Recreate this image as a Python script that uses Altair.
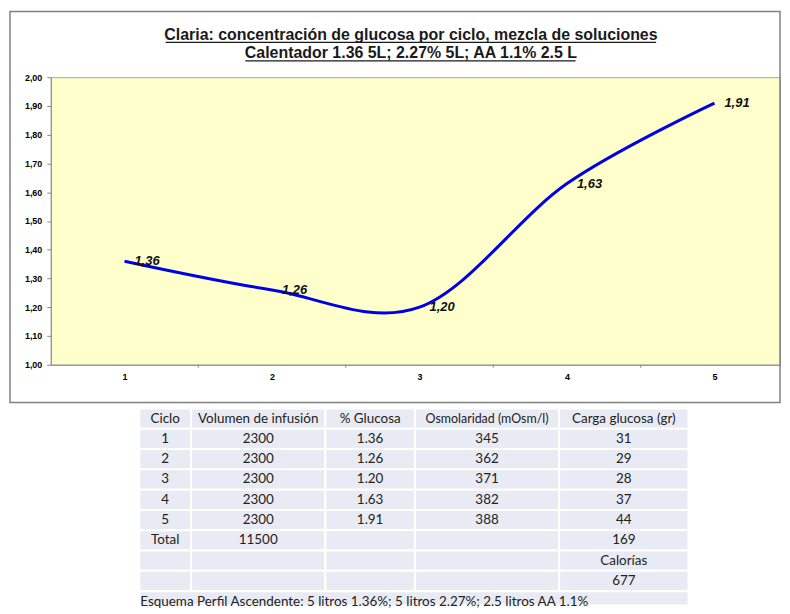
import altair as alt
import pandas as pd

# ---------------- data ----------------
ciclos = [1, 2, 3, 4, 5]
glucosa = [1.36, 1.26, 1.20, 1.63, 1.91]
volumen = [2300, 2300, 2300, 2300, 2300]
glucosa_txt = ["1.36", "1.26", "1.20", "1.63", "1.91"]
osmolaridad = [345, 362, 371, 382, 388]
carga = [31, 29, 28, 37, 44]
total_label = "Total"
total_volumen = 11500
total_carga = 169
calorias_label = "Calorías"
calorias = 677
headers = ["Ciclo", "Volumen de infusión", "% Glucosa", "Osmolaridad (mOsm/l)", "Carga glucosa (gr)"]
footer = "Esquema Perfil Ascendente: 5 litros 1.36%; 5 litros 2.27%; 2.5 litros AA 1.1%"
title_lines = [
    "Claria: concentración de glucosa por ciclo, mezcla de soluciones",
    "Calentador 1.36 5L; 2.27% 5L; AA 1.1% 2.5 L",
]
y_ticks = [1.0, 1.1, 1.2, 1.3, 1.4, 1.5, 1.6, 1.7, 1.8, 1.9, 2.0]
x_between = [1.5, 2.5, 3.5, 4.5]

# ---------------- layout ----------------
PLOT_W, PLOT_H = 733, 289
col_widths = [52, 135, 90, 145, 130]
TABLE_OFFSET = 89
ROW_H = 20.4
N_ROWS = 9
FOOT_H = 14.5
TABLE_W = sum(col_widths)
TABLE_H = ROW_H * N_ROWS + FOOT_H
FONT = "Liberation Sans"
TFONT = "Lato"
GRAY = "#8a8a8a"

# ---------------- line chart ----------------
df = pd.DataFrame({"ciclo": ciclos, "g": glucosa})

xs = alt.Scale(domain=[0.5, 0.5 + PLOT_W / 148.25], nice=False, zero=False)
ys = alt.Scale(domain=[1.0, 2.0], nice=False, zero=False)
x_axis = alt.Axis(values=ciclos, ticks=False, grid=False, title=None, domainColor=GRAY,
                  labelFont=FONT, labelFontSize=9, labelFontWeight="bold", labelColor="#000000",
                  labelPadding=8, labelAngle=0)
y_axis = alt.Axis(values=y_ticks, grid=False, title=None, domainColor=GRAY, tickColor=GRAY,
                  tickSize=4, labelFont=FONT, labelFontSize=9, labelFontWeight="bold",
                  labelColor="#000000", labelPadding=5,
                  labelExpr="replace(format(datum.value, '.2f'), '.', ',')")

X = alt.X("ciclo:Q", scale=xs, axis=x_axis)
Y = alt.Y("g:Q", scale=ys, axis=y_axis)

one = alt.Data(values=[{"k": 1}])

frame = alt.Chart(one).mark_rect(fillOpacity=0, stroke="#808080", strokeWidth=1.5).encode(
    x=alt.value(-41), x2=alt.value(PLOT_W), y=alt.value(-66), y2=alt.value(327)
)

t1 = alt.Chart(one).mark_text(font=FONT, fontSize=16, fontWeight="bold", color="#1a1a1a",
                              align="center", baseline="alphabetic").encode(
    x=alt.value(362), y=alt.value(-37.5), text=alt.value(title_lines[0]))
t2 = alt.Chart(one).mark_text(font=FONT, fontSize=16, fontWeight="bold", color="#1a1a1a",
                              align="center", baseline="alphabetic").encode(
    x=alt.value(362), y=alt.value(-19), text=alt.value(title_lines[1]))
u1 = alt.Chart(one).mark_rule(color="#1a1a1a", strokeWidth=1.3).encode(
    x=alt.value(115.5), x2=alt.value(608.5), y=alt.value(-35))
u2 = alt.Chart(one).mark_rule(color="#1a1a1a", strokeWidth=1.3).encode(
    x=alt.value(195.5), x2=alt.value(527.5), y=alt.value(-16.5))

xticks = alt.Chart(pd.DataFrame({"ciclo": x_between})).mark_rule(color=GRAY).encode(
    x=X, y=alt.value(PLOT_H), y2=alt.value(PLOT_H + 3))

line = alt.Chart(df).mark_line(interpolate="cardinal", color="#0000e8", strokeWidth=3).encode(x=X, y=Y)

labels = alt.Chart(df).transform_calculate(
    lbl="replace(format(datum.g, '.2f'), '.', ',')"
).mark_text(font=FONT, fontSize=13, fontWeight="bold", fontStyle="italic", color="#111111",
            align="left", baseline="middle", dx=10).encode(x=X, y=Y, text="lbl:N")

top = alt.layer(frame, xticks, line, labels, t1, t2, u1, u2).properties(
    width=PLOT_W, height=PLOT_H,
    view=alt.ViewBackground(fill="#ffffcc", stroke="#a6a6a6", strokeWidth=1),
)

# ---------------- table ----------------
rows = [headers]
for i in range(len(ciclos)):
    rows.append([str(ciclos[i]), str(volumen[i]), glucosa_txt[i], str(osmolaridad[i]), str(carga[i])])
rows.append([total_label, str(total_volumen), "", "", str(total_carga)])
rows.append(["", "", "", "", calorias_label])
rows.append(["", "", "", "", str(calorias)])

edges = [0]
for w in col_widths:
    edges.append(edges[-1] + w)

cells = []
for r, row in enumerate(rows):
    for c, txt in enumerate(row):
        fs = 12.5 if (r == 0 and c == 3) else 13.5
        cells.append({"x0": edges[c], "x1": edges[c + 1], "xc": (edges[c] + edges[c + 1]) / 2,
                      "y0": r * ROW_H, "y1": (r + 1) * ROW_H, "yc": (r + 0.5) * ROW_H,
                      "txt": txt, "fs": fs})
cells_df = pd.DataFrame(cells)
foot_df = pd.DataFrame([{"x0": 0, "x1": TABLE_W, "y0": N_ROWS * ROW_H, "y1": TABLE_H,
                         "yc": N_ROWS * ROW_H + 10.5, "txt": footer}])

tx = alt.Scale(domain=[-TABLE_OFFSET, TABLE_W], nice=False, zero=False)
ty = alt.Scale(domain=[0, TABLE_H], nice=False, zero=False, reverse=True)

cell_rect = alt.Chart(cells_df).mark_rect(fill="#e9ebf4", stroke="#ffffff", strokeWidth=2).encode(
    x=alt.X("x0:Q", scale=tx, axis=None), x2="x1:Q",
    y=alt.Y("y0:Q", scale=ty, axis=None), y2="y1:Q")
cell_text = alt.Chart(cells_df).mark_text(font=TFONT, color="#222222", align="center",
                                         baseline="middle").encode(
    x=alt.X("xc:Q", scale=tx, axis=None), y=alt.Y("yc:Q", scale=ty, axis=None),
    text="txt:N", size=alt.Size("fs:Q", scale=None))
foot_rect = alt.Chart(foot_df).mark_rect(fill="#e9ebf4", stroke="#ffffff", strokeWidth=2).encode(
    x=alt.X("x0:Q", scale=tx, axis=None), x2="x1:Q",
    y=alt.Y("y0:Q", scale=ty, axis=None), y2="y1:Q")
foot_text = alt.Chart(foot_df).mark_text(font=TFONT, fontSize=13.5, color="#222222", align="left",
                                        baseline="middle", dx=1).encode(
    x=alt.X("x0:Q", scale=tx, axis=None), y=alt.Y("yc:Q", scale=ty, axis=None), text="txt:N")

table = alt.layer(cell_rect, foot_rect, cell_text, foot_text).properties(
    width=TABLE_OFFSET + TABLE_W, height=TABLE_H,
    view=alt.ViewBackground(strokeWidth=0),
)

chart = alt.vconcat(top, table, spacing=44, bounds="flush").properties(
    padding=0, background="white"
)

chart.save("out.html", embed_options={"renderer": "svg", "actions": False})
